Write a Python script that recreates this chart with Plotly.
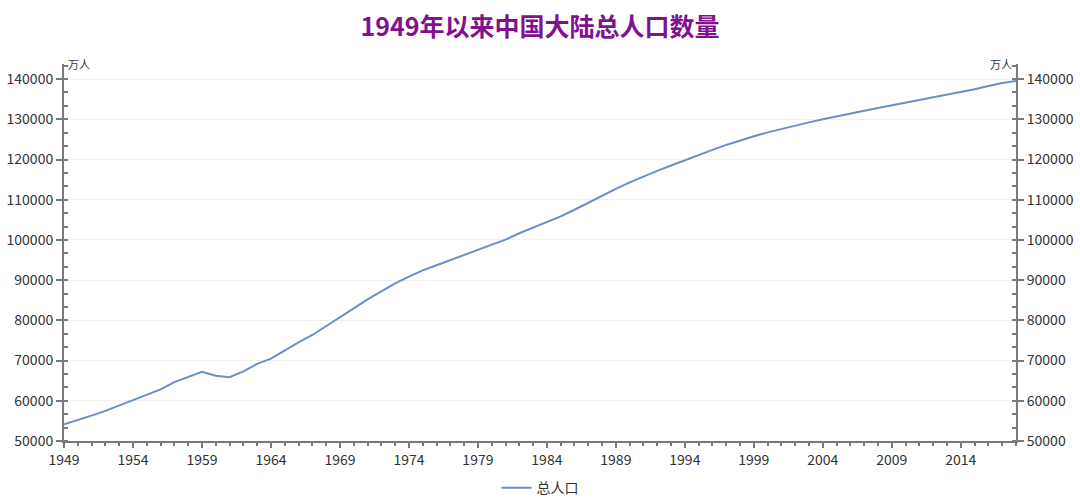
import plotly.graph_objects as go

years = list(range(1949, 2019))
population = [
    54167, 55196, 56300, 57482, 58796, 60266, 61465, 62828, 64653, 65994,
    67207, 66207, 65859, 67296, 69172, 70499, 72538, 74542, 76368, 78534,
    80671, 82992, 85229, 87177, 89211, 90859, 92420, 93717, 94974, 96259,
    97542, 98705, 100072, 101654, 103008, 104357, 105851, 107507, 109300, 111026,
    112704, 114333, 115823, 117171, 118517, 119850, 121121, 122389, 123626, 124761,
    125786, 126743, 127627, 128453, 129227, 129988, 130756, 131448, 132129, 132802,
    133450, 134091, 134735, 135404, 136072, 136782, 137462, 138271, 139008, 139538,
]
title_text = "1949年以来中国大陆总人口数量"
series_name = "总人口"
unit_label = "万人"

FONT = "Noto Sans CJK SC, Microsoft YaHei, sans-serif"
AX = "#7a7a7a"
LINE = "#6a8fc8"

fig = go.Figure()
fig.add_trace(go.Scatter(
    x=years, y=population, mode="lines", name=series_name,
    line=dict(color=LINE, width=2), yaxis="y",
))
fig.add_trace(go.Scatter(
    x=years, y=population, mode="lines", showlegend=False,
    line=dict(color="rgba(0,0,0,0)", width=0), hoverinfo="skip", yaxis="y2",
))

yrange = [50000, 143750]
common_y = dict(
    range=yrange, tick0=50000, dtick=10000, tickformat="d",
    showline=True, linecolor=AX, linewidth=2, automargin=False,
    ticks="outside", ticklen=6, tickwidth=2, tickcolor=AX,
    tickfont=dict(family=FONT, size=14, color="#333333"),
    zeroline=False, fixedrange=True,
    minor=dict(ticks="inside", dtick=10000 / 3, tick0=50000, ticklen=4,
               tickwidth=2, tickcolor=AX, showgrid=False),
)

fig.update_layout(
    width=1080, height=502,
    paper_bgcolor="white", plot_bgcolor="white",
    margin=dict(l=64, r=64, t=64, b=61, autoexpand=False),
    font=dict(family=FONT, size=14, color="#333333"),
    title=dict(text="<b>" + title_text + "</b>", x=0.5, xanchor="center",
               y=1 - 27 / 502, yanchor="middle",
               font=dict(family=FONT, size=25, color="#82118f")),
    xaxis=dict(
        range=[1949, 2018], tick0=1949, dtick=5, showline=True, linecolor=AX,
        linewidth=2, ticks="outside", ticklen=5, tickwidth=2, tickcolor=AX,
        showgrid=False, zeroline=False, automargin=False,
        tickfont=dict(family=FONT, size=14, color="#333333"),
        minor=dict(ticks="outside", dtick=1, tick0=1949, ticklen=3,
                   tickwidth=2, tickcolor=AX, showgrid=False),
    ),
    yaxis=dict(**common_y, side="left", showgrid=True, gridcolor="#f0f0f0", gridwidth=1),
    yaxis2=dict(**common_y, side="right", overlaying="y", showgrid=False),
    legend=dict(orientation="h", x=0.5, xanchor="center", y=-0.125, yanchor="middle",
                font=dict(family=FONT, size=14, color="#333333")),
    annotations=[
        dict(text=unit_label, xref="paper", yref="paper", x=0, y=1, xanchor="left",
             yanchor="middle", xshift=2, showarrow=False,
             font=dict(family=FONT, size=11, color="#333333")),
        dict(text=unit_label, xref="paper", yref="paper", x=1, y=1, xanchor="right",
             yanchor="middle", xshift=-2, showarrow=False,
             font=dict(family=FONT, size=11, color="#333333")),
    ],
)

fig.write_html(
    "out.html",
    config={"displayModeBar": False},
    post_script="document.body.style.margin='0';document.body.style.overflow='hidden';",
)
